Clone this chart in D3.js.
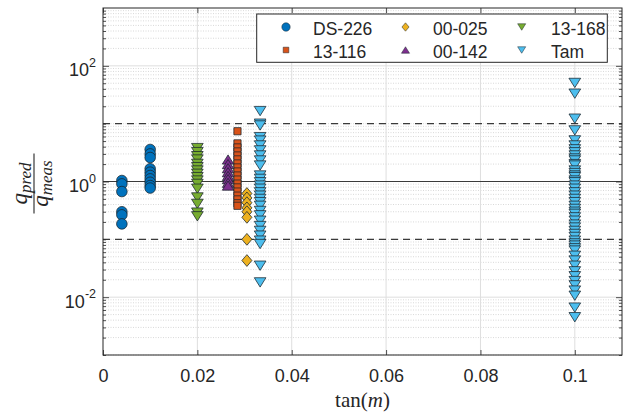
<!DOCTYPE html>
<html>
<head>
<meta charset="utf-8">
<script src="https://cdn.jsdelivr.net/npm/d3@7"></script>
<style>
  body { margin: 0; background: #fff; }
  text { font-family: "Liberation Sans", Arial, sans-serif; fill: #262626; }
</style>
</head>
<body>
<svg id="chart" width="629" height="417"></svg>
<script>
// data: x = tan(m), y = q_pred / q_meas
const ds226Tan = [0.004, 0.004, 0.004, 0.004, 0.004, 0.004,
  0.01, 0.01, 0.01, 0.01, 0.01, 0.01, 0.01, 0.01, 0.01, 0.01];
const ds226Ratio = [1.04, 0.91, 0.67, 0.30, 0.265, 0.185,
  3.58, 3.0, 2.6, 1.66, 1.45, 1.27, 1.11, 0.97, 0.85, 0.77];

const s13116Tan = 0.0285;
const s13116Ratio = [7.4, 4.56, 3.88, 3.31, 2.82, 2.41, 2.05, 1.75, 1.49,
  1.27, 1.08, 0.92, 0.79, 0.67, 0.57, 0.49, 0.42, 0.38];

const s00025Tan = 0.0305;
const s00025Ratio = [0.62, 0.52, 0.43, 0.35, 0.3, 0.24, 0.1, 0.043];

const s00142Tan = 0.0265;
const s00142Ratio = [2.4, 2.0, 1.7, 1.45, 1.25, 1.1, 0.95, 0.85];

const s13168Tan = 0.02;
const s13168Ratio = [3.78, 3.22, 2.74, 2.4, 2.02, 1.77, 1.55, 1.36, 1.19,
  1.04, 0.91, 0.75, 0.53, 0.41, 0.29, 0.25];

const tamTanA = 0.0333;
const tamRatioA = [16.5, 10.0, 9.3, 5.85, 5.1, 4.2, 3.45, 2.82, 2.31, 1.89,
  1.27, 1.11, 0.97, 0.85, 0.75, 0.65, 0.57, 0.50, 0.44, 0.38, 0.31, 0.26,
  0.21, 0.17, 0.14, 0.116, 0.095, 0.083, 0.035, 0.018];
const tamTanB = 0.1;
const tamRatioB = [50.6, 33, 12.2, 7.65, 5.14, 4.2, 3.6, 3.2, 2.82, 2.5, 2.31,
  2.0, 1.89, 1.55, 1.4, 1.27, 1.19, 1.04, 0.97, 0.85, 0.75, 0.65, 0.57, 0.5,
  0.44, 0.38, 0.336, 0.3, 0.276, 0.24, 0.21, 0.18, 0.16, 0.14, 0.124, 0.11,
  0.095, 0.085, 0.078, 0.07, 0.064, 0.052, 0.043, 0.035, 0.028, 0.023, 0.019,
  0.016, 0.013, 0.0106, 0.0066, 0.0045];

const seriesNames = ["DS-226", "13-116", "00-025", "00-142", "13-168", "Tam"];
const seriesColors = ["#0072BD", "#D95319", "#EDB120", "#7E2F8E", "#77AC30", "#4DBEEE"];
const seriesShapes = ["circle", "square", "diamond", "up", "down", "down"];

const xTicks = [0, 0.02, 0.04, 0.06, 0.08, 0.1];
const xTickLabels = ["0", "0.02", "0.04", "0.06", "0.08", "0.1"];
const yTicks = [1e-2, 1, 1e2];
const yTickExp = ["-2", "0", "2"];
const dashedLevels = [0.1, 10];
const solidLevel = 1;

// build point lists from the arrays above
function pointsfor(tans, ratios) {
  return ratios.map((r, i) => [Array.isArray(tans) ? tans[i] : tans, r]);
}
const seriesPoints = [
  pointsfor(ds226Tan, ds226Ratio),
  pointsfor(s13116Tan, s13116Ratio),
  pointsfor(s00025Tan, s00025Ratio),
  pointsfor(s00142Tan, s00142Ratio),
  pointsfor(s13168Tan, s13168Ratio),
  pointsfor(tamTanA, tamRatioA).concat(pointsfor(tamTanB, tamRatioB))
];

const plotL = 103, plotR = 622, plotT = 8, plotB = 355;
const svg = d3.select("#chart");
const x = d3.scaleLinear().domain([0, 0.11]).range([plotL, plotR]);
const y = d3.scaleLog().domain([1e-3, 1e3]).range([plotB, plotT]);

// minor log values 2..9 of every decade (plus the odd decades)
const minorVals = [];
for (let d = -3; d < 3; d++) {
  for (let k = 1; k <= 9; k++) {
    const v = k * Math.pow(10, d);
    if (!(k === 1 && d % 2 === 0)) minorVals.push(v);
  }
}

// marker path around 0,0
function markerpath(shape, s) {
  if (shape === "circle") {
    return d3.symbol(d3.symbolCircle, Math.PI * s * s)();
  }
  if (shape === "square") {
    return `M${-s},${-s}H${s}V${s}H${-s}Z`;
  }
  if (shape === "diamond") {
    const w = s * 0.85;
    return `M0,${-s}L${w},0L0,${s}L${-w},0Z`;
  }
  const w = s * 1.12, h = s * 0.9;
  if (shape === "up") return `M0,${-h}L${w},${h}L${-w},${h}Z`;
  return `M0,${h}L${w},${-h}L${-w},${-h}Z`;
}
const markerSize = [5.3, 3.6, 5.9, 5.1, 5.2, 5.2];
const legendSize = [4.2, 2.8, 4.2, 3.6, 3.6, 3.6];

// grid: minor dotted horizontal lines
svg.append("g")
  .selectAll("line")
  .data(minorVals)
  .join("line")
  .attr("x1", plotL).attr("x2", plotR)
  .attr("y1", d => y(d)).attr("y2", d => y(d))
  .attr("stroke", "#c8c8c8")
  .attr("stroke-width", 0.7)
  .attr("stroke-dasharray", "1,1.5");

// grid: major lines
svg.append("g")
  .selectAll("line")
  .data(yTicks)
  .join("line")
  .attr("x1", plotL).attr("x2", plotR)
  .attr("y1", d => y(d)).attr("y2", d => y(d))
  .attr("stroke", "#dedede")
  .attr("stroke-width", 1);
svg.append("g")
  .selectAll("line")
  .data(xTicks.slice(1))
  .join("line")
  .attr("x1", d => x(d)).attr("x2", d => x(d))
  .attr("y1", plotT).attr("y2", plotB)
  .attr("stroke", "#dedede")
  .attr("stroke-width", 1);

// reference lines
svg.append("line")
  .attr("x1", plotL).attr("x2", plotR)
  .attr("y1", y(solidLevel)).attr("y2", y(solidLevel))
  .attr("stroke", "#3a3a3a")
  .attr("stroke-width", 1.1);
svg.append("g")
  .selectAll("line")
  .data(dashedLevels)
  .join("line")
  .attr("x1", plotL).attr("x2", plotR)
  .attr("y1", d => y(d)).attr("y2", d => y(d))
  .attr("stroke", "#3a3a3a")
  .attr("stroke-width", 1.1)
  .attr("stroke-dasharray", "7,5");

// markers
seriesPoints.forEach((pts, i) => {
  svg.append("g")
    .selectAll("path")
    .data(pts)
    .join("path")
    .attr("d", markerpath(seriesShapes[i], markerSize[i]))
    .attr("transform", d => `translate(${x(d[0])},${y(d[1])})`)
    .attr("fill", seriesColors[i])
    .attr("stroke", "#18242c")
    .attr("stroke-width", 0.75);
});

// axes with inward ticks
const axisColor = "#262626";
function styleaxis(g) {
  g.select(".domain").remove();
  g.selectAll(".tick line").attr("stroke", axisColor).attr("stroke-width", 0.8);
}
svg.append("g")
  .attr("transform", `translate(0,${plotB})`)
  .call(d3.axisBottom(x).tickValues(xTicks).tickSize(-5).tickSizeOuter(0)
    .tickPadding(14).tickFormat((d, i) => xTickLabels[i]))
  .call(styleaxis)
  .selectAll("text")
  .attr("font-size", 18)
  .attr("font-family", "Liberation Sans, Arial, sans-serif")
  .attr("fill", axisColor);
svg.append("g")
  .attr("transform", `translate(0,${plotT})`)
  .call(d3.axisTop(x).tickValues(xTicks).tickSize(-5).tickSizeOuter(0).tickFormat(""))
  .call(styleaxis);
svg.append("g")
  .attr("transform", `translate(${plotL},0)`)
  .call(d3.axisLeft(y).tickValues(yTicks).tickSize(-6).tickSizeOuter(0).tickFormat(""))
  .call(styleaxis);
svg.append("g")
  .attr("transform", `translate(${plotL},0)`)
  .call(d3.axisLeft(y).tickValues(minorVals).tickSize(-3).tickSizeOuter(0).tickFormat(""))
  .call(styleaxis);
svg.append("g")
  .attr("transform", `translate(${plotR},0)`)
  .call(d3.axisRight(y).tickValues(yTicks).tickSize(-6).tickSizeOuter(0).tickFormat(""))
  .call(styleaxis);
svg.append("g")
  .attr("transform", `translate(${plotR},0)`)
  .call(d3.axisRight(y).tickValues(minorVals).tickSize(-3).tickSizeOuter(0).tickFormat(""))
  .call(styleaxis);

// y tick labels 10^n
const ylab = svg.append("g")
  .selectAll("text")
  .data(yTicks)
  .join("text")
  .attr("x", 96)
  .attr("y", d => y(d) + 10.5)
  .attr("text-anchor", "end")
  .attr("font-size", 18);
ylab.append("tspan").text("10");
ylab.append("tspan").attr("dy", -9.5).attr("font-size", 12.5).text((d, i) => yTickExp[i]);

// box
svg.append("rect")
  .attr("x", plotL).attr("y", plotT)
  .attr("width", plotR - plotL).attr("height", plotB - plotT)
  .attr("fill", "none")
  .attr("stroke", axisColor)
  .attr("stroke-width", 1);

// x label tan(m)
const xl = svg.append("text")
  .attr("x", (plotL + plotR) / 2)
  .attr("y", 407)
  .attr("text-anchor", "middle")
  .attr("font-size", 21)
  .style("font-family", "Liberation Serif, DejaVu Serif, serif");
xl.append("tspan").text("tan(");
xl.append("tspan").attr("font-style", "italic").text("m");
xl.append("tspan").text(")");

// y label fraction q_pred / q_meas
const yl = svg.append("g")
  .attr("transform", `translate(34,${y(1) + 2}) rotate(-90)`)
  .style("font-family", "Liberation Serif, DejaVu Serif, serif");
yl.append("line")
  .attr("x1", -30).attr("x2", 30)
  .attr("y1", 0).attr("y2", 0)
  .attr("stroke", "#262626")
  .attr("stroke-width", 1.1);
const num = yl.append("text")
  .attr("x", 0).attr("y", -7.5)
  .attr("text-anchor", "middle")
  .attr("font-size", 23)
  .attr("font-style", "italic")
  .style("font-family", "Liberation Serif, DejaVu Serif, serif");
num.append("tspan").text("q");
num.append("tspan").attr("dy", 4).attr("font-size", 17).text("pred");
const den = yl.append("text")
  .attr("x", 0).attr("y", 14)
  .attr("text-anchor", "middle")
  .attr("font-size", 23)
  .attr("font-style", "italic")
  .style("font-family", "Liberation Serif, DejaVu Serif, serif");
den.append("tspan").text("q");
den.append("tspan").attr("dy", 4).attr("font-size", 17).text("meas");

// legend
const legendX = [286, 405.5, 521.7];
const legendTextX = [313, 433, 551];
const legendY = [27, 50];
svg.append("rect")
  .attr("x", 256.7).attr("y", 14)
  .attr("width", 350.6).attr("height", 48.3)
  .attr("fill", "#fff")
  .attr("stroke", axisColor)
  .attr("stroke-width", 1);
seriesNames.forEach((name, i) => {
  const col = Math.floor(i / 2), row = i % 2;
  svg.append("path")
    .attr("d", markerpath(seriesShapes[i], legendSize[i]))
    .attr("transform", `translate(${legendX[col]},${legendY[row]})`)
    .attr("fill", seriesColors[i])
    .attr("stroke", "#18242c")
    .attr("stroke-width", 0.5);
  svg.append("text")
    .attr("x", legendTextX[col])
    .attr("y", legendY[row] + 7.5)
    .attr("font-size", 17.5)
    .text(name);
});
</script>
</body>
</html>
